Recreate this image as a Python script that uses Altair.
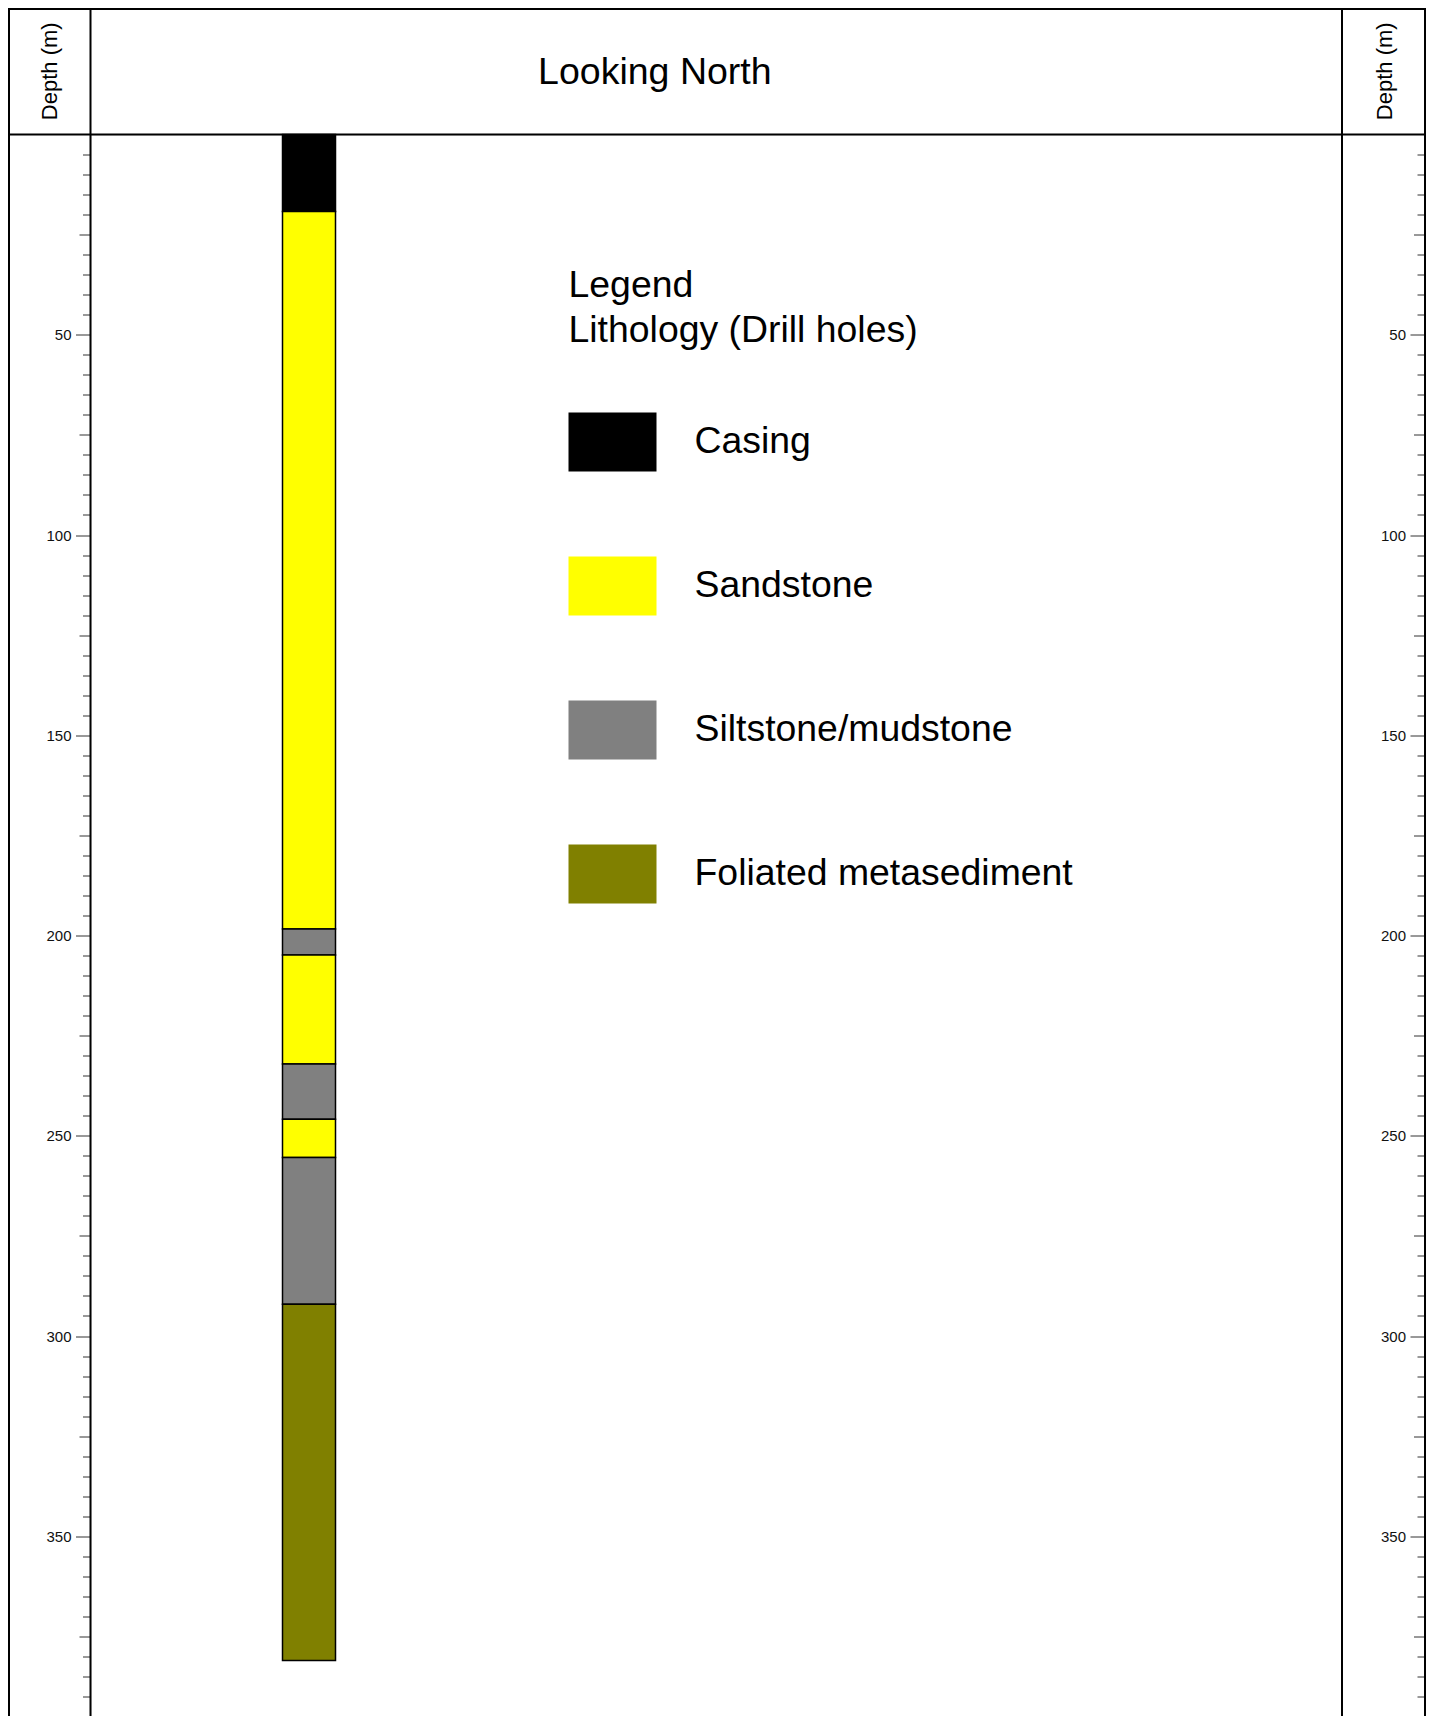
import altair as alt
import pandas as pd

# ---- data ----
lithology = ["Casing", "Sandstone", "Siltstone/mudstone", "Sandstone",
             "Siltstone/mudstone", "Sandstone", "Siltstone/mudstone",
             "Foliated metasediment"]
depth_from = [0, 19.2, 198.4, 204.9, 232.1, 245.9, 255.4, 292.1]
depth_to = [19.2, 198.4, 204.9, 232.1, 245.9, 255.4, 292.1, 381.0]
legend_order = ["Casing", "Sandstone", "Siltstone/mudstone", "Foliated metasediment"]
legend_colors = ["#000000", "#ffff00", "#808080", "#808000"]
tick_values = list(range(5, 395, 5))
header_text = "Looking North"

df = pd.DataFrame({"hole": "DH", "lith": lithology, "top": depth_from, "bottom": depth_to})

# ---- layout (pixels) ----
FONT = "Liberation Sans"
PAD_L, PAD_T, PAD_R = 82.5, 126.5, 84
W, H = 1251.5, 1581.5
DEPTH_MAX = H / 4.005
X_OUT_L, X_OUT_R, Y_OUT_T = -81.5, 1334.5, -125.5

y_scale = alt.Scale(domain=[0, DEPTH_MAX], reverse=True, nice=False, zero=False)


def depth_axis(offset):
    return alt.Axis(
        orient="left", offset=offset, values=tick_values,
        labelExpr="datum.value % 50 === 0 ? datum.label : ''",
        tickSize={"condition": [{"test": "datum.value % 50 === 0", "value": 15},
                                {"test": "datum.value % 25 === 0", "value": 11.5}],
                  "value": 8},
        tickColor="#333", tickWidth=1, domain=False, grid=False,
        labelFont=FONT, labelFontSize=15, labelColor="#111", labelPadding=4.5,
        labelFlush=False, labelOverlap=False, format="d",
        title="Depth (m)", titleFont=FONT, titleFontSize=22, titleFontWeight="normal",
        titleColor="black", titleAngle=270, titleAlign="center",
        titleBaseline="alphabetic", titleX=-34, titleY=-63.7,
    )


bars = alt.Chart(df).mark_bar(stroke="black", strokeWidth=1.5).encode(
    x=alt.X("hole:N", scale=alt.Scale(range=[192, 245], paddingInner=0, paddingOuter=0), axis=None),
    y=alt.Y("top:Q", scale=y_scale, axis=depth_axis(0)),
    y2="bottom:Q",
    color=alt.Color(
        "lith:N",
        scale=alt.Scale(domain=legend_order, range=legend_colors),
        legend=alt.Legend(
            orient="none", legendX=478, legendY=132, padding=0,
            title=["Legend", "Lithology (Drill holes)"],
            titleFont=FONT, titleFontSize=37.4, titleFontWeight="normal", titleColor="black",
            titleLineHeight=45, titleLimit=900, titlePadding=49, titleBaseline="top",
            symbolType="M-1,-0.67H1V0.67H-1Z", symbolSize=7744, symbolStrokeWidth=0,
            symbolOpacity=1, rowPadding=70,
            labelFont=FONT, labelFontSize=37.4, labelColor="black", labelLimit=900,
            labelOffset=38,
        ),
    ),
)

right_axis_layer = alt.Chart(df).mark_point(opacity=0).encode(
    y=alt.Y("top:Q", scale=y_scale, axis=depth_axis(-(X_OUT_R))),
)

header = alt.Chart(alt.Data(values=[{}])).mark_text(
    align="left", baseline="alphabetic", font=FONT, fontSize=37.5, color="black"
).encode(x=alt.value(447.6), y=alt.value(-50.5), text=alt.value(header_text))


def vrule(x):
    return alt.Chart(alt.Data(values=[{}])).mark_rule(color="black", strokeWidth=2).encode(
        x=alt.value(x), y=alt.value(Y_OUT_T - 1), y2=alt.value(H))


def hrule(y):
    return alt.Chart(alt.Data(values=[{}])).mark_rule(color="black", strokeWidth=2).encode(
        x=alt.value(X_OUT_L - 1), x2=alt.value(X_OUT_R + 1), y=alt.value(y))


frame = [vrule(X_OUT_L), vrule(0), vrule(W), vrule(X_OUT_R), hrule(Y_OUT_T), hrule(0)]

chart = alt.layer(bars, right_axis_layer, header, *frame).resolve_axis(y="independent").properties(
    width=W, height=H,
    padding={"left": PAD_L, "top": PAD_T, "right": PAD_R, "bottom": 0},
    autosize=alt.AutoSizeParams(type="none"),
).configure_view(stroke="transparent").configure(background="white")

chart.save("out.html", embed_options={"renderer": "svg", "actions": False})
